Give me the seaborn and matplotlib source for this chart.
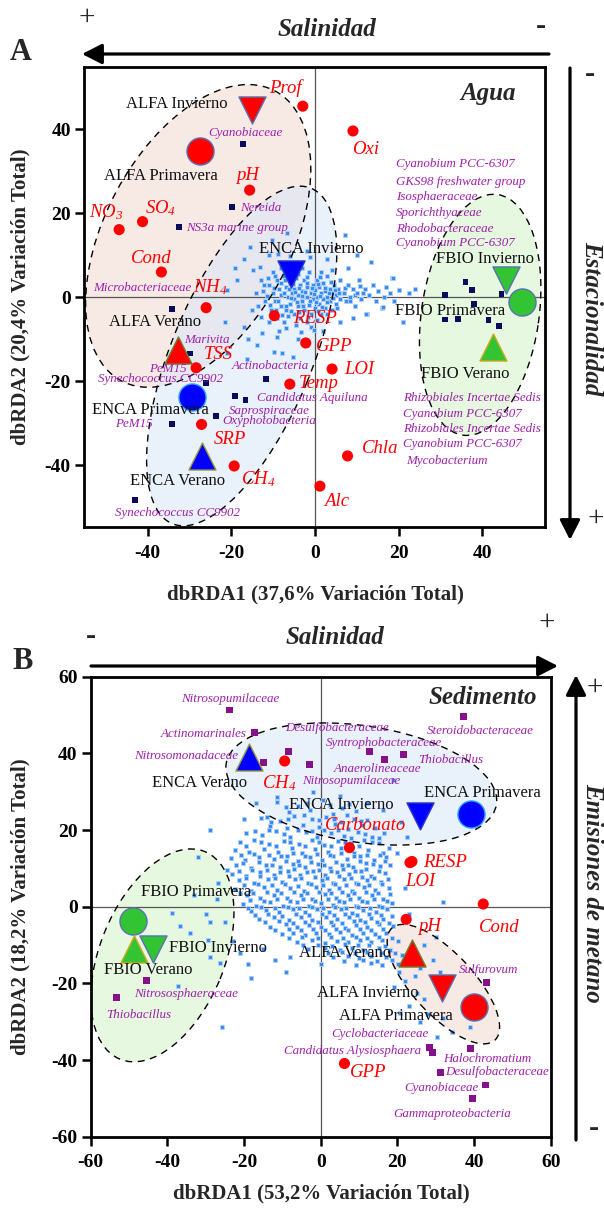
import matplotlib
matplotlib.use('Agg')
import numpy as np
import pandas as pd
import matplotlib.pyplot as plt
import seaborn as sns
from matplotlib.patches import Ellipse, FancyArrowPatch

# ===================== PANEL A : Agua =====================
a_env_names = ['Prof', 'Oxi', 'pH', '$SO_4$', '$NO_3$', 'Cond', '$NH_4$', 'RESP', 'GPP', 'LOI',
               'Temp', 'TSS', 'SRP', '$CH_4$', 'Chla', 'Alc']
a_env_x = [-2.9, 9.1, -15.6, -41.2, -46.8, -36.7, -26.0, -9.7, -2.2, 4.1, -6.0, -28.4, -27.1, -19.3, 7.8, 1.2]
a_env_y = [45.5, 39.6, 25.5, 18.0, 16.1, 6.0, -2.5, -4.4, -10.9, -17.1, -20.7, -16.8, -30.3, -40.2, -37.8, -45.0]
a_env_lx = [-7.1, 12.1, -16.0, -36.9, -50.0, -39.1, -25.0, 0.0, 4.5, 10.7, 0.8, -23.0, -20.4, -13.5, 15.5, 5.3]
a_env_ly = [49.7, 35.2, 29.0, 21.1, 20.3, 9.2, 2.3, -5.1, -11.7, -17.1, -20.5, -13.6, -34.0, -43.4, -36.0, -48.7]

a_samp_site = ['ALFA', 'ALFA', 'ALFA', 'ENCA', 'ENCA', 'ENCA', 'FBIO', 'FBIO', 'FBIO']
a_samp_season = ['Invierno', 'Primavera', 'Verano'] * 3
a_samp_x = [-15.1, -27.4, -32.8, -5.7, -29.5, -27.1, 45.6, 49.4, 42.5]
a_samp_y = [44.5, 34.8, -12.5, 5.6, -23.7, -37.8, 4.0, -1.1, -11.8]
a_samp_lx = [-33.1, -36.9, -38.1, -0.8, -39.3, -32.9, 40.6, 32.4, 35.9]
a_samp_ly = [45.9, 28.8, -6.0, 11.6, -26.9, -43.7, 9.0, -3.3, -18.3]

a_tax_x = [-17.2, -19.8, -32.4, -34.1, -29.8, -26.0, -11.7, -19.0, -16.6, -23.7, -34.1, -43.1,
           36.0, 37.5, 31.1, 44.6, 31.1, 34.1, 38.1, 41.5, 44.0]
a_tax_y = [36.4, 21.5, 16.7, -2.9, -13.4, -20.4, -19.4, -23.6, -24.5, -28.3, -30.1, -48.3,
           3.7, 1.8, 0.5, 0.7, -5.3, -5.1, -1.7, -5.5, -6.9]

a_lab_names = ['Cyanobiaceae', 'Nereida', 'NS3a marine group', 'Microbacteriaceae', 'Marivita', 'PeM15',
               'Synechococcus CC9902', 'Actinobacteria', 'Candidatus Aquiluna', 'Saprospiraceae',
               'Oxyphotobacteria', 'PeM15', 'Synechococcus CC9902',
               'Cyanobium PCC-6307', 'GKS98 freshwater group', 'Isosphaeraceae', 'Sporichthyaceae',
               'Rhodobacteraceae', 'Cyanobium PCC-6307',
               'Rhizobiales Incertae Sedis', 'Cyanobium PCC-6307', 'Rhizobiales Incertae Sedis',
               'Cyanobium PCC-6307', 'Mycobacterium']
a_lab_x = [-16.5, -18.0, -30.9, -41.3, -25.8, -35.2, -36.9, -10.7, -0.6, -11.0, -11.0, -43.3, -32.9,
           19.4, 19.4, 19.4, 19.4, 19.4, 19.4,
           21.0, 21.0, 21.0, 21.0, 21.8]
a_lab_y = [39.1, 21.2, 16.5, 2.1, -10.1, -17.0, -19.4, -16.4, -23.9, -27.1, -29.4, -30.2, -51.5,
           31.8, 27.5, 23.9, 20.1, 16.3, 12.9,
           -24.1, -27.9, -31.4, -34.9, -39.0]
a_lab_ha = ['center', 'left', 'left'] + ['center'] * 10 + ['left'] * 11

a_ell_cx = [-27.9, -17.5, 39.5]
a_ell_cy = [14.6, -14.0, -4.2]
a_ell_w = [78.2, 86.5, 57.9]
a_ell_h = [44.5, 33.6, 28.1]
a_ell_ang = [61.9, 67.4, 81.7]

a_cloud_core = [(-11, 3), (-10, 1), (-9.5, -1), (-9, 4), (-8.5, 2), (-8, -2), (-8, 0.5), (-7.5, 5), (-7, -3),
                (-7, 2.5), (-6.5, 0), (-6, -1.5), (-6, 3.5), (-5.5, 1), (-5, -4), (-5, -0.5), (-5, 2),
                (-4.5, 4.5), (-4, -2), (-4, 0.5), (-3.5, 3), (-3.5, -5), (-3, -1), (-3, 1.5), (-2.5, -3),
                (-2.5, 4), (-2, 0), (-2, 2.5), (-1.5, -1.8), (-1.5, 6), (-1, 1), (-1, -4), (-0.5, 3),
                (-0.5, -0.5), (0, -2.5), (0, 1.8), (0.5, 4), (0.5, 0), (1, -1.5), (1, 2.5), (1.5, -4),
                (1.5, 1), (2, -0.5), (2, 3.5), (2.5, -2.5), (2.5, 1.5), (3, 0), (3, 5), (3.5, -1), (3.5, 2),
                (4, -3), (4, 1), (4.5, 3), (5, -1.5), (5, 0.5), (5.5, 2), (6, -0.5), (6, 4), (-12, -1),
                (-12.5, 1.5), (-10.5, -3), (-9, -5), (-7.5, -6), (-6.5, -4.5), (-4.5, -6.5), (-2, -6),
                (-1, -7), (0.5, -5.5), (-10, 6), (-8, 7), (-5, 8), (-3, 7), (-11, -6), (-13, 4), (-14, 1),
                (-13.5, -2), (-6.5, 6.5), (1.5, 6), (4, 6.5), (-8.5, -8)]
a_cloud_dense = [(-9.7, 2.2), (-8.8, -0.9), (-8.2, 3.3), (-7.4, 1.1), (-6.8, -2.2), (-6.2, 2.0), (-5.8, -0.2),
                 (-5.3, 3.1), (-4.8, 1.3), (-4.3, -1.1), (-3.8, 2.2), (-3.2, 0.3), (-2.8, -2.1), (-2.3, 1.2),
                 (-1.8, 3.3), (-1.2, -0.9), (-0.7, 2.1), (-0.2, 0.8), (0.3, -1.2), (0.8, 3.1), (1.3, 0.3),
                 (1.8, -2.4), (2.3, 2.2), (2.8, -1.1), (3.3, 1.1), (3.8, 3.6), (4.3, -0.3), (4.8, 1.8),
                 (5.3, -2.6), (5.8, 0.9), (-11.5, 0.2), (-10.8, -1.8), (-9.2, -3.1), (-7.8, -4.2), (-5.6, -3.2),
                 (-3.7, -3.6), (-1.6, -4.6), (0.7, -3.4), (2.9, -4.1), (-9.6, 5.1), (-7.1, 4.2), (-4.1, 5.6),
                 (-1.9, 4.8), (1.1, 4.9), (-12.2, 3.0), (-11.2, 4.5), (7.2, 2.2), (8.3, -0.8), (9.6, 0.6),
                 (10.8, 2.6), (11.6, 0.9), (-6.9, -7.4), (-3.3, -8.2), (-0.3, -7.8), (-5.9, 9.8), (-8.9, 10.4),
                 (-13.1, 7.3), (-12.9, -4.8)]
a_cloud_arm = [(7, 1), (7.5, -1), (8, 3), (8.5, 0), (9, 2), (9.5, -2), (10, 1), (10.5, 4), (11, -0.5), (12, 2),
               (12.5, -4), (13, 0.5), (14, 3), (14.5, -1), (15, 1.5), (16, -2.5), (16.5, 0), (17, 2.5),
               (18, 1), (18.5, 4.5), (19, -1), (20, 1.7), (21, -6), (22.5, 0.9), (24, 2), (13.5, 8.5),
               (18.6, 4.5), (16.2, -2.3), (12.3, -4), (7.1, 14.8)]
a_cloud_halo = [(-15.5, 12), (-14.7, 6.4), (-10.3, 13.6), (-6.7, 15.2), (-1.2, 9.6), (-21, 1.7), (-18.6, 4),
                (-21.4, -5.9), (-12.7, -8.6), (-13.9, -11.4), (-9.9, -13), (-7.9, -13.4), (-16.3, -14.6),
                (-5.2, -14.2), (-9.1, -9.5), (-21, -13.4), (-17, -7), (-15, -3), (-17, 9), (-19, 7), (-2, 11),
                (3, 9), (8, 7), (10, 10), (-4, -10), (2, -8), (6, -6), (9, -5), (-11, 10), (-16, -10)]

# ===================== PANEL B : Sedimento =====================
b_env_names = ['$CH_4$', 'Carbonato', 'RESP', 'LOI', 'Cond', 'pH', 'GPP']
b_env_x = [-9.4, 7.5, 23.3, 23.8, 42.4, 22.3, 6.2]
b_env_y = [38.0, 15.4, 11.5, 11.8, 0.7, -3.3, -40.9]
b_env_lx = [-10.8, 11.6, 32.4, 25.9, 46.5, 28.5, 12.4]
b_env_ly = [32.2, 21.1, 11.5, 6.5, -5.4, -5.2, -43.2]

b_samp_site = ['ALFA', 'ALFA', 'ALFA', 'ENCA', 'ENCA', 'ENCA', 'FBIO', 'FBIO', 'FBIO']
b_samp_season = ['Invierno', 'Primavera', 'Verano'] * 3
b_samp_x = [31.6, 40.1, 23.9, 25.9, 39.1, -18.7, -43.8, -49.0, -48.7]
b_samp_y = [-21.3, -26.1, -12.2, 23.7, 24.2, 39.0, -11.1, -3.7, -11.1]
b_samp_lx = [12.4, 19.6, 6.3, 5.5, 42.3, -31.5, -26.7, -32.4, -45.0]
b_samp_ly = [-22.4, -28.5, -12.0, 26.5, 29.7, 32.4, -10.9, 3.9, -16.5]

b_tax_x = [-23.7, -17.3, -15.0, -8.3, -3.0, 12.7, 16.6, 21.6, 37.2, 43.3, 28.3, 29.2, 39.1, 31.3, 43.0, 39.7,
           -45.4, -53.2]
b_tax_y = [51.3, 45.4, 37.7, 40.5, 37.0, 40.4, 38.5, 39.8, 49.6, -19.8, -36.8, -38.1, -36.9, -43.2, -46.5,
           -50.0, -19.3, -23.7]

b_lab_names = ['Nitrosopumilaceae', 'Actinomarinales', 'Nitrosomonadaceae', 'Desulfobacteraceae',
               'Syntrophobacteraceae', 'Steroidobacteraceae', 'Thiobacillus', 'Anaerolineaceae',
               'Nitrosopumilaceae', 'Sulfurovum', 'Cyclobacteriaceae', 'Candidatus Alysiosphaera',
               'Halochromatium', 'Desulfobacteraceae', 'Cyanobiaceae', 'Gammaproteobacteria',
               'Nitrososphaeraceae', 'Thiobacillus']
b_lab_x = [-23.7, -30.6, -35.1, 4.2, 16.6, 41.6, 33.9, 14.8, 7.9, 43.7, 15.5, 8.4, 43.5, 46.1, 31.4, 34.2,
           -35.1, -47.6]
b_lab_y = [54.1, 45.1, 39.3, 46.5, 42.6, 45.9, 38.3, 36.0, 32.8, -16.5, -33.2, -37.6, -39.7, -43.2, -47.2,
           -54.2, -22.9, -28.3]

b_ell_cx = [10.6, 32.0, -41.3]
b_ell_cy = [32.0, -20.2, -12.7]
b_ell_w = [71.3, 39.7, 58.5]
b_ell_h = [30.4, 16.0, 32.5]
b_ell_ang = [-8.5, -47.4, 67.8]

b_cloud_core = [
    (-11.3, 27.2), (-5.8, 26.4), (0.7, 27.9), (5.6, 25.8), (-8.4, 24.6), (-2.9, 25.1), (3.2, 24.2), (9.1, 24.9),
    (-15.6, 23.1), (-10.7, 22.4), (-6.9, 23.6), (-2.2, 22.8), (1.4, 23.3), (5.3, 22.1), (8.6, 23.0), (12.2, 22.6),
    (-13.1, 21.0), (-8.8, 20.5), (-4.6, 21.4), (-0.4, 20.8), (3.7, 21.6), (7.2, 20.3), (10.8, 21.2), (14.1, 20.6),
    (-19.4, 19.2), (-15.2, 18.6), (-11.6, 19.7), (-7.9, 18.3), (-3.8, 19.4), (-0.9, 18.1), (2.6, 19.1), (6.1, 18.5),
    (9.7, 19.6), (13.3, 18.2), (16.4, 19.3), (-21.1, 16.8), (-17.3, 17.4), (-13.4, 16.3), (-9.6, 17.1),
    (-5.7, 16.4), (-2.3, 17.5), (0.8, 16.2), (4.4, 17.2), (7.8, 16.6), (11.2, 17.4), (15.1, 16.5),
    (-22.3, 14.9), (-18.6, 14.2), (-14.8, 15.1), (-11.2, 14.4), (-7.6, 15.3), (-4.9, 14.1), (-1.6, 15.0),
    (1.9, 14.3), (5.2, 15.2), (8.7, 14.1), (12.4, 14.8), (16.2, 14.0), (-23.4, 12.6), (-19.7, 12.1),
    (-16.1, 13.0), (-12.3, 12.4), (-8.9, 13.2), (-5.8, 12.0), (-2.7, 12.9), (0.4, 12.2), (3.3, 13.1),
    (6.9, 12.5), (10.3, 13.3), (13.8, 12.3), (17.1, 13.0),
    (-22.1, 10.8), (-18.3, 10.1), (-14.2, 11.0), (-10.7, 10.4), (-7.3, 11.2), (-4.1, 10.3), (-0.8, 11.1),
    (2.4, 10.2), (5.6, 11.0), (8.3, 10.4), (11.9, 11.3), (15.4, 10.5), (18.2, 10.9), (-23.2, 8.6),
    (-19.6, 8.1), (-15.9, 9.0), (-12.2, 8.3), (-8.6, 9.2), (-5.3, 8.4), (-2.1, 9.3), (1.2, 8.2), (4.3, 9.1),
    (7.4, 8.5), (10.6, 9.4), (13.2, 8.1), (16.9, 8.8),
    (-21.2, 6.9), (-17.4, 6.2), (-13.8, 7.1), (-10.1, 6.4), (-6.8, 7.2), (-3.2, 6.1), (0.3, 7.0), (3.1, 6.3),
    (6.2, 7.1), (9.2, 6.2), (12.1, 7.0), (15.8, 6.4), (-22.4, 4.7), (-18.1, 4.2), (-14.7, 5.1), (-11.4, 4.4),
    (-7.9, 5.0), (-4.3, 4.1), (-1.1, 5.2), (2.2, 4.3), (4.9, 5.0), (8.1, 4.2), (11.3, 5.1), (14.2, 4.3),
    (17.8, 4.9),
    (-19.3, 3.0), (-15.8, 2.3), (-12.1, 3.1), (-8.8, 2.2), (-5.1, 3.0), (-2.2, 2.1), (1.1, 3.2), (4.1, 2.4),
    (7.2, 3.1), (10.1, 2.2), (13.4, 3.0), (16.3, 2.1), (-20.2, 0.8), (-16.9, 0.2), (-13.2, 1.1), (-9.8, 0.3),
    (-6.3, 1.2), (-3.1, 0.1), (0.2, 1.0), (3.3, 0.4), (6.1, 1.3), (9.3, 0.2), (12.2, 1.1), (15.1, 0.3),
    (18.7, 0.9),
    (-18.2, -1.2), (-14.3, -0.8), (-10.9, -1.5), (-7.2, -0.7), (-4.1, -1.4), (-0.9, -0.6), (2.1, -1.3),
    (5.2, -0.5), (8.2, -1.6), (11.1, -0.9), (14.3, -1.4), (17.2, -0.7), (-16.1, -3.2), (-12.3, -2.7),
    (-8.2, -3.4), (-5.1, -2.6), (-2.2, -3.5), (1.3, -2.8), (4.2, -3.3), (7.3, -2.6), (10.2, -3.4),
    (13.1, -2.9), (16.2, -3.1),
    (-13.3, -5.2), (-9.1, -4.6), (-6.2, -5.4), (-3.1, -4.7), (0.2, -5.3), (3.2, -4.8), (6.3, -5.5), (9.1, -4.9),
    (12.2, -5.2), (15.3, -4.6), (18.9, -5.1), (-10.2, -7.1), (-7.1, -6.8), (-4.2, -7.4), (-1.1, -6.9),
    (2.1, -7.2), (5.1, -6.7), (8.2, -7.3), (11.1, -6.9), (14.2, -7.2), (17.1, -6.8), (-6.1, -9.2),
    (-2.2, -8.7), (1.1, -9.4), (4.2, -8.9), (7.1, -9.1), (10.3, -8.8), (13.2, -9.3), (16.1, -8.7), (20.1, -9.0),
    (-3.2, -11.1), (1.2, -10.8), (5.1, -11.3), (8.2, -10.9), (11.1, -11.4), (15.2, -10.7), (18.1, -11.2),
    (3.1, -13.2), (7.2, -12.8), (10.1, -13.3), (13.2, -12.9), (17.1, -13.1), (21.2, -12.7), (9.1, -15.1),
    (13.2, -14.8), (16.1, -15.3), (20.2, -14.9)]
b_cloud_fill = [
    (-9.0, 26.0), (-3.5, 27.0), (2.5, 26.5), (7.5, 26.8),
    (-12.9, 22.2), (-8.6, 22.9), (-4.4, 23.9), (-0.4, 22.6), (3.4, 22.9), (6.9, 24.0), (10.4, 22.3),
    (-17.2, 19.8), (-13.4, 19.9), (-9.7, 18.9), (-5.8, 20.1), (-2.3, 19.8), (0.9, 20.0), (4.4, 19.9), (7.9, 18.0),
    (11.6, 19.0), (15.2, 18.0),
    (-19.5, 15.8), (-15.6, 16.9), (-11.7, 15.8), (-7.9, 16.9), (-4.0, 15.8), (-0.5, 16.9), (2.7, 15.9),
    (6.4, 16.9), (9.9, 15.9), (13.4, 16.9), (17.9, 15.4),
    (-20.9, 13.4), (-17.3, 13.7), (-13.6, 13.6), (-10.4, 13.3), (-7.2, 14.0), (-4.2, 13.2), (-0.9, 13.7),
    (2.3, 13.4), (5.4, 13.9), (8.7, 13.2), (12.0, 13.6), (15.4, 13.4),
    (-20.3, 11.4), (-16.2, 11.7), (-12.6, 10.8), (-9.1, 11.9), (-5.7, 11.0), (-2.6, 11.6), (0.8, 10.9),
    (4.0, 11.7), (7.0, 10.9), (10.2, 11.8), (13.6, 11.1), (16.9, 11.8),
    (-21.4, 9.4), (-17.9, 9.7), (-14.1, 9.6), (-10.5, 9.1), (-6.9, 9.8), (-3.7, 9.0), (-0.4, 9.7), (2.8, 9.3),
    (5.9, 9.8), (9.0, 9.2), (11.9, 9.8), (15.1, 9.3),
    (-19.5, 7.6), (-15.8, 7.9), (-12.0, 7.5), (-8.4, 7.9), (-5.1, 7.4), (-1.5, 7.8), (1.7, 7.5), (4.7, 7.9),
    (7.8, 7.4), (10.7, 7.8), (14.0, 7.6), (17.6, 7.3),
    (-20.0, 5.6), (-16.3, 5.9), (-12.6, 5.7), (-9.3, 5.9), (-5.9, 5.5), (-2.6, 5.8), (0.7, 5.6), (3.7, 5.9),
    (6.6, 5.6), (9.8, 5.8), (12.7, 5.6), (16.1, 5.9),
    (-21.0, 3.7), (-17.7, 3.5), (-13.9, 3.9), (-10.4, 3.6), (-6.9, 3.8), (-3.7, 3.5), (-0.4, 3.9), (2.7, 3.6),
    (5.6, 3.8), (8.7, 3.5), (11.8, 3.9), (14.9, 3.6), (18.0, 3.4),
    (-18.4, 1.8), (-14.9, 1.6), (-11.5, 2.0), (-8.0, 1.6), (-4.6, 1.9), (-1.4, 1.5), (1.8, 1.9), (4.7, 1.6),
    (7.7, 1.9), (10.8, 1.6), (13.9, 1.9), (17.2, 1.5),
    (-19.0, -0.3), (-15.5, -0.1), (-12.0, -0.4), (-8.6, -0.2), (-5.6, -0.4), (-2.4, -0.1), (0.7, -0.3),
    (3.7, -0.2), (6.7, -0.4), (9.7, -0.1), (12.9, -0.3), (16.1, -0.2),
    (-17.1, -2.1), (-13.7, -1.9), (-10.1, -2.3), (-6.5, -1.8), (-3.0, -2.2), (0.3, -1.9), (3.4, -2.1),
    (6.4, -1.8), (9.5, -2.2), (12.5, -1.9), (15.6, -2.1), (18.6, -2.5),
    (-14.6, -4.1), (-10.8, -3.8), (-7.3, -4.2), (-4.1, -3.9), (-0.8, -4.1), (2.6, -3.9), (5.6, -4.2),
    (8.6, -3.8), (11.6, -4.1), (14.7, -3.9), (17.7, -4.2),
    (-11.8, -6.1), (-8.2, -5.9), (-5.1, -6.2), (-2.1, -5.8), (1.1, -6.1), (4.1, -5.9), (7.2, -6.2),
    (10.2, -5.8), (13.1, -6.1), (16.2, -5.9),
    (-8.3, -8.1), (-4.9, -7.9), (-0.6, -8.2), (2.8, -7.9), (5.9, -8.1), (9.2, -7.9), (12.1, -8.2),
    (15.1, -7.8), (18.6, -8.1),
    (-4.6, -10.1), (-0.6, -9.9), (3.0, -10.2), (6.4, -9.8), (9.6, -10.1), (12.7, -9.9), (16.7, -10.2),
    (1.8, -12.1), (5.6, -11.9), (8.9, -12.2), (12.2, -11.9), (15.8, -12.1), (19.4, -12.0),
    (6.0, -14.1), (11.1, -13.9), (14.8, -14.1), (18.6, -13.9)]
b_cloud_tail = [(20.5, -17), (22, -19.5), (24.5, -18), (19, -21), (25, -22.5), (27, -24), (23, -26),
                (29.4, -13.9), (28, -28), (30.3, -33.9), (34.2, -32.6), (39, -31.3), (20.7, -27.7), (26, -30),
                (32, -29), (32, 1.3), (27, -10), (30, -8), (26, -16), (31, -17)]
b_cloud_halo = [(-11.5, 28.7), (-14.1, 23.5), (-28.9, 20), (-31.9, 12.9), (-26.8, 6.2), (-38.9, -1.7),
                (-36.7, -5), (-34, -6.9), (-29.3, -8.7), (-28.9, -13), (-26.3, -14.7), (-18.3, -18.7),
                (-25.8, -31.3), (-37.2, -20.6), (-30, -2), (-24.5, 9.6), (-27, 2), (-25, -4), (-23, -9),
                (-21, -12), (-15, -11), (-12, -14), (-8, -13), (18.9, 33), (22.4, 18.3), (16.3, 25.2), (20, 14),
                (22, 5), (23, -2), (21, 22), (-17, 27), (-20, 23), (-2, 30), (5, 29), (12, 27), (-33, 3),
                (-29, -4), (-19, -15), (-9, -17), (0, -15)]

# ===================== STYLE =====================
sns.set_theme(style='white')
plt.rcParams['font.family'] = ['Liberation Serif', 'DejaVu Serif']
plt.rcParams['mathtext.fontset'] = 'custom'
plt.rcParams['mathtext.it'] = 'Liberation Serif:italic'
plt.rcParams['mathtext.rm'] = 'Liberation Serif:italic'
plt.rcParams['mathtext.default'] = 'it'
plt.rcParams['axes.unicode_minus'] = False

W, H = 604, 1209
fig = plt.figure(figsize=(W / 100, H / 100), dpi=100)


def F(px, py):
    return (px / W, 1 - py / H)


axA = fig.add_axes([84 / W, 1 - 527.3 / H, 461 / W, 460.6 / H])
axB = fig.add_axes([90.7 / W, 1 - 1136.7 / H, 460 / W, 460 / H])

RED, BLUE, GREEN = '#ff0000', '#0000ff', '#33c433'
PURPLE_TXT = '#9e1fab'
site_color = {'ALFA': RED, 'ENCA': BLUE, 'FBIO': GREEN}
season_marker = {'Primavera': 'o', 'Invierno': 'v', 'Verano': '^'}
edge_col = {('ALFA', 'Primavera'): '#5a72b0', ('ALFA', 'Invierno'): '#5a72b0', ('ALFA', 'Verano'): '#6f7f30',
            ('ENCA', 'Primavera'): '#2aa0ff', ('ENCA', 'Invierno'): '#2a3acc', ('ENCA', 'Verano'): '#9a9a40',
            ('FBIO', 'Primavera'): '#5a72b0', ('FBIO', 'Invierno'): '#5a72b0', ('FBIO', 'Verano'): '#d6a820'}


def draw(ax, xlim, ylim, ticks, ell, ell_fills, clouds, tax_x, tax_y, sq_color, sq_size,
         labs, env, samp, title, title_xy):
    ax.set_xlim(*xlim)
    ax.set_ylim(*ylim)
    ax.axhline(0, color='#555555', lw=0.9, zorder=1.5)
    ax.axvline(0, color='#555555', lw=0.9, zorder=1.5)
    cx, cy, ew, eh, ea = ell
    for i in range(len(cx)):
        ax.add_patch(Ellipse((cx[i], cy[i]), ew[i], eh[i], angle=ea[i], facecolor=ell_fills[i],
                             edgecolor='none', alpha=0.55, zorder=1))
    cl = np.array([p for c in clouds for p in c])
    sns.scatterplot(x=cl[:, 0], y=cl[:, 1], marker='s', s=9, color='#3b8cf2', edgecolor='#b0d2fa',
                    linewidth=0.6, ax=ax, zorder=2, legend=False)
    for i in range(len(cx)):
        ax.add_patch(Ellipse((cx[i], cy[i]), ew[i], eh[i], angle=ea[i], facecolor='none',
                             edgecolor='black', lw=1.0, linestyle=(0, (5, 4)), zorder=3))
    sns.scatterplot(x=tax_x, y=tax_y, marker='s', s=sq_size, color=sq_color, edgecolor='none',
                    ax=ax, zorder=4, legend=False)
    names, ex, ey, elx, ely = env
    sns.scatterplot(x=ex, y=ey, marker='o', s=64, color=RED, edgecolor='none', ax=ax, zorder=4,
                    legend=False)
    for n, x, y in zip(names, elx, ely):
        ax.text(x, y, n, color=RED, fontsize=13.5, style='italic', ha='center', va='center', zorder=6)
    site, season, sx, sy, slx, sly = samp
    df = pd.DataFrame({'x': sx, 'y': sy, 'site': site, 'season': season})
    for _, r in df.iterrows():
        sns.scatterplot(x=[r.x], y=[r.y], marker=season_marker[r.season], s=380,
                        color=site_color[r.site], edgecolor=edge_col[(r.site, r.season)],
                        linewidth=1.0, ax=ax, zorder=5, legend=False)
    for s_, se, x, y in zip(site, season, slx, sly):
        ax.text(x, y, f'{s_} {se}', color='#111111', fontsize=12, ha='center', va='center', zorder=6)
    ln, lx, ly, lha = labs
    for n, x, y, h in zip(ln, lx, ly, lha):
        ax.text(x, y, n, color=PURPLE_TXT, fontsize=9.4, style='italic', ha=h, va='center', zorder=6)
    ax.text(title_xy[0], title_xy[1], title, fontsize=18, fontweight='bold', style='italic',
            ha='center', va='center', zorder=6)
    ax.set_xticks(ticks)
    ax.set_yticks(ticks)
    ax.set_xticklabels([str(t) for t in ticks], fontweight='bold', fontsize=14)
    ax.set_yticklabels([str(t) for t in ticks], fontweight='bold', fontsize=14)
    ax.tick_params(axis='both', direction='out', length=6.5, width=1.8, bottom=True, left=True,
                   top=False, right=False, colors='black')
    ax.tick_params(axis='x', pad=6)
    ax.tick_params(axis='y', pad=3)
    for sp in ax.spines.values():
        sp.set_linewidth(2.0)
        sp.set_color('black')
    ax.set_xlabel('')
    ax.set_ylabel('')
    ax.grid(False)


draw(axA, (-55.2, 55.0), (-54.8, 54.9), [-40, -20, 0, 20, 40],
     (a_ell_cx, a_ell_cy, a_ell_w, a_ell_h, a_ell_ang), ['#f2d9d0', '#d8e6f8', '#d2f3c8'],
     [a_cloud_core, a_cloud_dense, a_cloud_arm, a_cloud_halo], a_tax_x, a_tax_y, '#0b0b5c', 18,
     (a_lab_names, a_lab_x, a_lab_y, a_lab_ha),
     (a_env_names, a_env_x, a_env_y, a_env_lx, a_env_ly),
     (a_samp_site, a_samp_season, a_samp_x, a_samp_y, a_samp_lx, a_samp_ly),
     'Agua', (41.3, 48.5))

draw(axB, (-60, 60), (-60, 60), [-60, -40, -20, 0, 20, 40, 60],
     (b_ell_cx, b_ell_cy, b_ell_w, b_ell_h, b_ell_ang), ['#d8e6f8', '#f2d9d0', '#d2f3c8'],
     [b_cloud_core, b_cloud_fill, b_cloud_tail, b_cloud_halo], b_tax_x, b_tax_y, '#86118a', 24,
     (b_lab_names, b_lab_x, b_lab_y, ['center'] * len(b_lab_names)),
     (b_env_names, b_env_x, b_env_y, b_env_lx, b_env_ly),
     (b_samp_site, b_samp_season, b_samp_x, b_samp_y, b_samp_lx, b_samp_ly),
     'Sedimento', (42.4, 54.6))

# ---------- axis titles ----------
fig.text(*F(315, 594), 'dbRDA1 (37,6% Variación Total)', fontsize=15, fontweight='bold', ha='center', va='center')
fig.text(*F(20, 297), 'dbRDA2 (20,4% Variación Total)', fontsize=15, fontweight='bold', ha='center',
         va='center', rotation=90)
fig.text(*F(321, 1193), 'dbRDA1 (53,2% Variación Total)', fontsize=15, fontweight='bold', ha='center', va='center')
fig.text(*F(20, 907), 'dbRDA2 (18,2% Variación Total)', fontsize=15, fontweight='bold', ha='center',
         va='center', rotation=90)

# ---------- panel letters & gradient arrows ----------
fig.text(*F(21, 52), 'A', fontsize=22, fontweight='bold', ha='center', va='center')
fig.text(*F(23, 661), 'B', fontsize=22, fontweight='bold', ha='center', va='center')

astyle = '-|>,head_length=0.55,head_width=0.28'


def arrow(p0, p1):
    fig.add_artist(FancyArrowPatch(F(*p0), F(*p1), transform=fig.transFigure, arrowstyle=astyle,
                                   mutation_scale=22, lw=2.3, color='black', shrinkA=0, shrinkB=0))


arrow((549, 54), (82, 54))
fig.text(*F(327, 30), 'Salinidad', fontsize=18, fontweight='bold', style='italic', ha='center', va='center')
fig.text(*F(87, 18), '+', fontsize=21, ha='center', va='center')
fig.text(*F(541, 27), '-', fontsize=22, fontweight='bold', ha='center', va='center')

arrow((570, 68), (570, 540))
fig.text(*F(592, 318), 'Estacionalidad', fontsize=18, fontweight='bold', style='italic', ha='center',
         va='center', rotation=270)
fig.text(*F(590, 74), '-', fontsize=22, fontweight='bold', ha='center', va='center')
fig.text(*F(596, 519), '+', fontsize=21, ha='center', va='center')

arrow((91, 666), (558, 666))
fig.text(*F(335, 638), 'Salinidad', fontsize=18, fontweight='bold', style='italic', ha='center', va='center')
fig.text(*F(91, 636), '-', fontsize=22, fontweight='bold', ha='center', va='center')
fig.text(*F(547, 623), '+', fontsize=21, ha='center', va='center')

arrow((576, 1140), (576, 675))
fig.text(*F(593, 893), 'Emisiones de metano', fontsize=18, fontweight='bold', style='italic', ha='center',
         va='center', rotation=270)
fig.text(*F(595, 688), '+', fontsize=21, ha='center', va='center')
fig.text(*F(594, 1129), '-', fontsize=22, fontweight='bold', ha='center', va='center')

fig.savefig('out.png', dpi=100)
